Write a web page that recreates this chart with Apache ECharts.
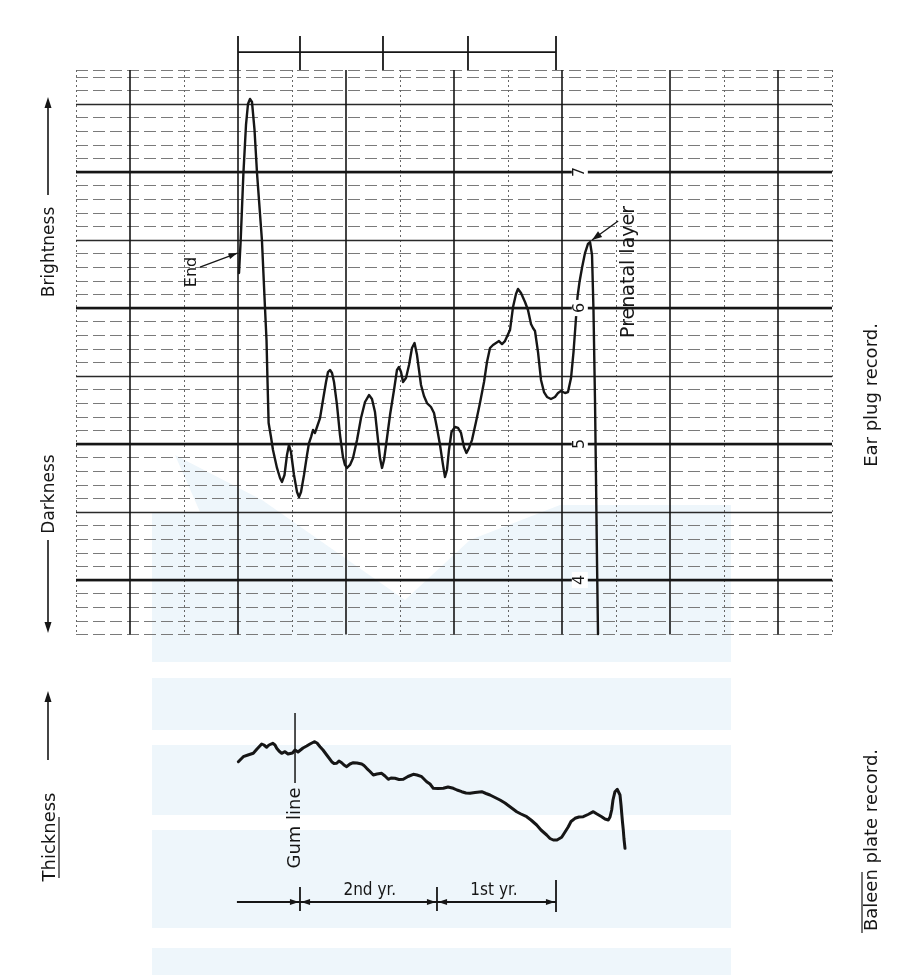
<!DOCTYPE html>
<html>
<head>
<meta charset="utf-8">
<script src="https://cdn.jsdelivr.net/npm/echarts@6/dist/echarts.min.js"></script>
<style>
  html, body { margin: 0; padding: 0; background: #fff; }
  #chart { width: 912px; height: 975px; }
</style>
</head>
<body>
<div id="chart"></div>
<script>
// Ear plug densitometer trace: position along the plug (grid columns) and brightness reading
const earX = [2.019,2.05,2.10,2.148,2.185,2.222,2.259,2.306,2.352,2.398,2.444,2.50,2.528,2.546,2.567,2.611,2.648,2.722,2.778,2.815,
  2.861,2.907,2.944,2.981,3.037,3.093,3.13,3.167,3.222,3.278,3.315,3.352,3.389,3.426,3.463,3.519,3.574,3.63,3.667,3.704,
  3.741,3.778,3.833,3.889,3.944,3.981,4.019,4.074,4.13,4.204,4.278,4.352,4.426,4.481,4.537,4.593,4.63,4.667,4.704,4.759,
  4.815,4.889,4.944,4.981,5.019,5.056,5.111,5.167,5.222,5.269,5.315,5.352,5.389,5.444,5.5,5.574,5.63,5.685,5.741,5.796,
  5.833,5.87,5.907,5.954,6.019,6.074,6.13,6.185,6.231,6.278,6.333,6.407,6.481,6.556,6.611,6.667,6.722,6.778,6.833,6.889,
  6.944,6.981,7.037,7.093,7.148,7.185,7.241,7.315,7.37,7.426,7.463,7.5,7.556,7.611,7.667,7.722,7.796,7.87,7.926,7.981,
  8.056,8.111,8.167,8.213,8.25,8.287,8.324,8.37,8.426,8.481,8.519,8.556,8.583,8.611,8.63,8.648,8.667];
const earBrightness = [6.257,6.50,6.99,7.346,7.50,7.537,7.515,7.309,6.993,6.743,6.493,6.00,5.765,5.471,5.154,5.051,4.956,4.824,4.75,4.721,
  4.772,4.919,4.993,4.941,4.772,4.647,4.61,4.647,4.772,4.919,5.007,5.051,5.103,5.081,5.125,5.191,5.324,5.456,5.529,5.544,
  5.522,5.456,5.287,5.066,4.904,4.846,4.824,4.846,4.897,5.029,5.191,5.309,5.36,5.331,5.235,5.029,4.897,4.824,4.882,5.044,
  5.213,5.397,5.544,5.566,5.529,5.456,5.485,5.581,5.706,5.743,5.654,5.544,5.434,5.353,5.301,5.272,5.228,5.118,4.993,4.846,
  4.757,4.809,4.956,5.088,5.125,5.118,5.081,4.978,4.934,4.971,5.029,5.162,5.301,5.456,5.603,5.706,5.728,5.743,5.757,5.735,
  5.757,5.743,5.838,6.007,6.103,6.14,6.11,6.044,5.985,5.882,5.853,5.831,5.676,5.471,5.382,5.346,5.331,5.346,5.375,5.39,
  5.375,5.382,5.485,5.676,5.875,6.081,6.191,6.294,6.404,6.471,6.485,6.39,5.985,5.324,4.735,4.147,3.603];

// Baleen plate thickness profile (relative units) along the same position scale
const baleenX = [2.006,2.098,2.185,2.283,2.352,2.439,2.481,2.531,2.574,2.643,2.685,2.717,2.759,2.809,2.87,2.926,2.963,3.009,3.056,3.111,
  3.148,3.204,3.272,3.333,3.413,3.463,3.519,3.574,3.643,3.685,3.735,3.778,3.828,3.87,3.92,3.963,4.013,4.074,4.135,4.204,
  4.291,4.333,4.383,4.444,4.506,4.574,4.661,4.722,4.783,4.833,4.907,4.981,5.061,5.148,5.246,5.315,5.402,5.494,5.556,5.617,
  5.704,5.802,5.889,5.987,6.056,6.143,6.222,6.296,6.389,6.513,6.593,6.667,6.759,6.852,6.944,7.037,7.161,7.241,7.346,7.426,
  7.531,7.611,7.716,7.778,7.839,7.907,7.994,8.056,8.117,8.167,8.241,8.315,8.394,8.481,8.58,8.648,8.735,8.796,8.857,8.889,
  8.92,8.944,8.981,9.024,9.056,9.074,9.093,9.106,9.12,9.135,9.148,9.167];
const baleenThickness = [4.915,5.165,5.25,5.335,5.55,5.8,5.75,5.635,5.75,5.835,5.75,5.585,5.45,5.335,5.415,5.3,5.2,5.35,5.5,5.4,
  5.415,5.6,5.7,5.8,5.915,5.85,5.665,5.5,5.25,5.1,4.915,4.825,4.835,4.95,4.865,4.75,4.665,4.8,4.865,4.85,
  4.8,4.725,4.585,4.425,4.25,4.3,4.335,4.2,4.035,4.1,4.085,4.025,4.035,4.175,4.285,4.25,4.165,3.915,3.8,3.585,
  3.575,3.585,3.65,3.585,3.5,3.415,3.35,3.335,3.375,3.415,3.325,3.25,3.125,3.0,2.85,2.665,2.415,2.3,2.165,2.0,
  1.75,1.5,1.25,1.075,1.0,1.0,1.135,1.4,1.665,1.925,2.085,2.15,2.165,2.275,2.415,2.3,2.165,2.05,2.0,2.15,
  2.5,3.0,3.415,3.535,3.45,3.25,2.75,2.335,1.9,1.5,1.05,0.585];

// Brightness scale values written on the heavy rules
const brightnessValues = [7, 6, 5, 4];
const brightnessLabels = ['7', '6', '5', '4'];

// Layer boundaries marked above the ear plug record
const earLayerTicks = [2.0, 3.148, 4.685, 6.259, 7.889];
// Year boundaries under the baleen record
const baleenYearStart = 1.98;
const baleenYearTicks = [3.148, 5.685, 7.889];
const yearLabels = ['2nd yr.', '1st yr.'];
const yearLabelX = [4.44, 6.74];
const gumLineX = 3.056;

// Annotated points on the ear plug record
const endLabelPos = [1.148, 6.265];
const endArrowFrom = [1.296, 6.301];
const endArrowTo = [1.99, 6.404];
const prenatalLabelPos = [9.24, 6.265];
const prenatalArrowFrom = [9.04, 6.64];
const prenatalArrowTo = [8.556, 6.5];
const scaleLabelX = 8.33;

const ink = '#161616';
const font = 'DejaVu Sans, sans-serif';
const narrowFont = '"Liberation Sans Narrow", "DejaVu Sans Condensed", sans-serif';
const noAxisParts = { axisLine: { show: false }, axisTick: { show: false }, axisLabel: { show: false } };

const chart = echarts.init(document.getElementById('chart'), null, { renderer: 'canvas' });

chart.setOption({
  animation: false,
  backgroundColor: '#ffffff',
  grid: [
    { left: 76, right: 80, top: 70, bottom: 340.6 },   // ear plug chart paper: fine rules and dotted columns
    { left: 130, right: 134, top: 70, bottom: 340.6 }, // solid column rules
    { left: 76, right: 80, top: 172, bottom: 395 },    // heavy unit rules 4..7
    { left: 76, right: 80, top: 104, bottom: 395 },    // half-unit rules
    { left: 76, right: 80, top: 700, bottom: 115 }     // baleen record
  ],
  xAxis: [
    { gridIndex: 0, type: 'value', min: -1, max: 13, interval: 2, z: 1, ...noAxisParts,
      splitLine: { show: true, lineStyle: { color: '#666', width: 1, type: [2, 3] } } },
    { gridIndex: 1, type: 'value', min: 0, max: 12, interval: 2, z: 3, ...noAxisParts,
      splitLine: { show: true, lineStyle: { color: ink, width: 1.6 } } },
    { gridIndex: 2, type: 'value', min: -1, max: 13, ...noAxisParts, splitLine: { show: false } },
    { gridIndex: 3, type: 'value', min: -1, max: 13, ...noAxisParts, splitLine: { show: false } },
    { gridIndex: 4, type: 'value', min: -1, max: 13, ...noAxisParts, splitLine: { show: false } }
  ],
  yAxis: [
    { gridIndex: 0, type: 'value', min: 3.6, max: 7.75, interval: 0.1, z: 1, ...noAxisParts,
      splitLine: { show: true, lineStyle: { color: '#7a7a7a', width: 1, type: [12, 5] } } },
    { gridIndex: 1, type: 'value', min: 3.6, max: 7.75, ...noAxisParts, splitLine: { show: false } },
    { gridIndex: 2, type: 'value', min: 4, max: 7, interval: 1, z: 4, ...noAxisParts,
      splitLine: { show: true, lineStyle: { color: ink, width: 2.3 } } },
    { gridIndex: 3, type: 'value', min: 4, max: 7.5, interval: 0.5, z: 2, ...noAxisParts,
      splitLine: { show: true, lineStyle: { color: '#2a2a2a', width: 1.4 } } },
    { gridIndex: 4, type: 'value', min: 0, max: 8, ...noAxisParts, splitLine: { show: false } }
  ],
  series: [
    {
      name: 'Ear plug record', type: 'line', xAxisIndex: 0, yAxisIndex: 0,
      data: earX.map((x, i) => [x, earBrightness[i]]),
      symbol: 'none', clip: false, z: 10,
      lineStyle: { color: ink, width: 2.4, join: 'round', cap: 'round' }
    },
    {
      name: 'Baleen plate record', type: 'line', xAxisIndex: 4, yAxisIndex: 4,
      data: baleenX.map((x, i) => [x, baleenThickness[i]]),
      symbol: 'none', clip: false, z: 10,
      lineStyle: { color: ink, width: 3, join: 'round', cap: 'round' }
    }
  ]
});

// Annotation helpers, positioned through the grids' own scales
const p0 = v => chart.convertToPixel({ gridIndex: 0 }, v);
const p4 = v => chart.convertToPixel({ gridIndex: 4 }, v);

function seg(a, b, w, color) {
  return { type: 'line', z: 20, silent: true,
    shape: { x1: a[0], y1: a[1], x2: b[0], y2: b[1] },
    style: { stroke: color || ink, lineWidth: w || 1.5 } };
}
function head(tip, from, len, half) {
  len = len || 9; half = half || 3.5;
  const dx = tip[0] - from[0], dy = tip[1] - from[1];
  const L = Math.hypot(dx, dy), ux = dx / L, uy = dy / L;
  const bx = tip[0] - ux * len, by = tip[1] - uy * len;
  return { type: 'polygon', z: 20, silent: true,
    shape: { points: [[tip[0], tip[1]], [bx - uy * half, by + ux * half], [bx + uy * half, by - ux * half]] },
    style: { fill: ink } };
}
function label(pt, text, size, rotation, extra) {
  return { type: 'text', z: 21, silent: true, x: pt[0], y: pt[1], rotation: rotation || 0,
    style: Object.assign({ text: text, fontSize: size, fontFamily: font, fill: ink,
      align: 'center', verticalAlign: 'middle' }, extra || {}) };
}
const up = Math.PI / 2;
const g = [];

// faint publisher backdrop behind the lower part of the sheet
const wash = '#eef6fb';
[[152, 678, 731, 730], [152, 745, 731, 815], [152, 830, 731, 928], [152, 948, 731, 975]].forEach(r => {
  g.push({ type: 'rect', z: -5, silent: true, shape: { x: r[0], y: r[1], width: r[2] - r[0], height: r[3] - r[1] }, style: { fill: wash } });
});
g.push({ type: 'polygon', z: -5, silent: true,
  shape: { points: [[175, 455], [262, 500], [405, 600], [470, 540], [560, 505], [731, 505], [731, 662], [152, 662], [152, 512], [200, 512]] },
  style: { fill: wash } });

// layer bar above the ear plug record
const barY = 7.882;
g.push(seg(p0([earLayerTicks[0], barY]), p0([earLayerTicks[earLayerTicks.length - 1], barY]), 1.8));
earLayerTicks.forEach(t => g.push(seg(p0([t, 7.75]), p0([t, 8.0]), 1.8)));

// brightness values sitting on the heavy rules
brightnessValues.forEach((v, i) => {
  g.push(label(p0([scaleLabelX, v]), brightnessLabels[i], 16, up, { backgroundColor: '#fff', padding: [0, 3] }));
});

// "End" and "Prenatal layer" callouts
g.push(label(p0(endLabelPos), 'End', 16, up));
g.push(seg(p0(endArrowFrom), p0(endArrowTo), 1.3));
g.push(head(p0(endArrowTo), p0(endArrowFrom), 9, 3));
g.push(label(p0(prenatalLabelPos), 'Prenatal layer', 19, up));
g.push(seg(p0(prenatalArrowFrom), p0(prenatalArrowTo), 1.3));
g.push(head(p0(prenatalArrowTo), p0(prenatalArrowFrom), 10, 3.5));

// gum line on the baleen record
g.push(seg(p4([gumLineX, 7.35]), p4([gumLineX, 3.85]), 1.5));
g.push(label(p4([gumLineX, 1.6]), 'Gum line', 18, up));

// year bar under the baleen record
const yb = -2.1;
g.push(seg(p4([baleenYearStart, yb]), p4([baleenYearTicks[baleenYearTicks.length - 1], yb]), 1.8));
baleenYearTicks.forEach((t, i) => {
  const last = i === baleenYearTicks.length - 1;
  g.push(seg(p4([t, last ? -1.0 : -1.35]), p4([t, last ? -2.6 : -2.55]), 1.8));
  g.push(head(p4([t - 0.02, yb]), p4([t - 0.3, yb]), 9, 3));
  if (!last) g.push(head(p4([t + 0.02, yb]), p4([t + 0.3, yb]), 9, 3));
});
yearLabels.forEach((s, i) => {
  g.push(label(p4([yearLabelX[i], -1.55]), s, 17, 0, { fontFamily: narrowFont }));
});

// side captions
g.push(label([50, 252], 'Brightness', 17, up));
g.push(seg([48, 195], [48, 104], 1.6));
g.push(head([48, 97], [48, 195], 11, 3.5));
g.push(label([50, 494], 'Darkness', 17, up));
g.push(seg([48, 540], [48, 626], 1.6));
g.push(head([48, 633], [48, 540], 11, 3.5));
g.push(label([50, 837], 'Thickness', 18, up));
g.push(seg([59, 817], [59, 878], 1.2));
g.push(seg([48, 760], [48, 698], 1.6));
g.push(head([48, 691], [48, 760], 11, 3.5));
g.push(label([872, 395], 'Ear plug record.', 18, up));
g.push(label([872, 840], 'Baleen plate record.', 18, up));
g.push(seg([862, 872], [862, 933], 1.2));

chart.setOption({ graphic: { elements: g } });
</script>
</body>
</html>
